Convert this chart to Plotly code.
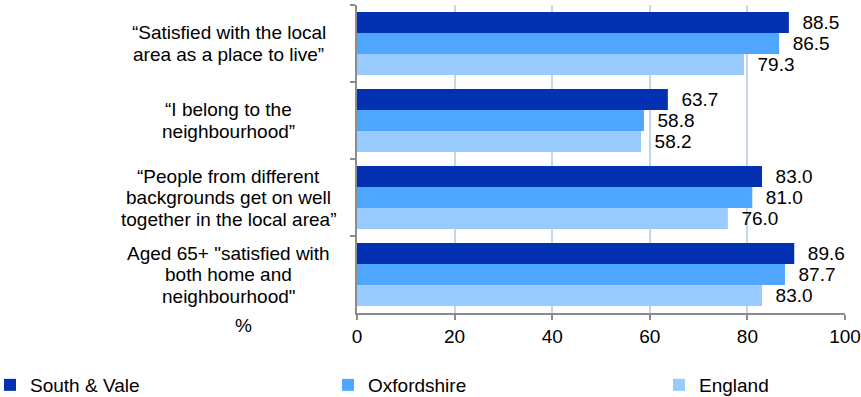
import plotly.graph_objects as go

categories = [
    "“Satisfied with the local<br>area as a place to live”",
    "“I belong to the<br>neighbourhood”",
    "“People from different<br>backgrounds get on well<br>together in the local area”",
    "Aged 65+ \"satisfied with<br>both home and<br>neighbourhood\"",
]
series_names = ["South & Vale", "Oxfordshire", "England"]
south_vale = [88.5, 63.7, 83.0, 89.6]
oxfordshire = [86.5, 58.8, 81.0, 87.7]
england = [79.3, 58.2, 76.0, 83.0]
x_ticks = [0, 20, 40, 60, 80, 100]
axis_title = "%"

colors = ["#0331b2", "#4ea6fe", "#99cbfe"]
legend_ids = ["legend", "legend2", "legend3"]
legend_x = [-0.752, -0.0594, 0.6189]
FONT = "Liberation Sans, Arial, sans-serif"
FS = 19

fig = go.Figure()
for name, vals, col, lid in zip(series_names, [south_vale, oxfordshire, england], colors, legend_ids):
    fig.add_trace(go.Bar(
        y=categories, x=vals, name=name, orientation="h",
        marker=dict(color=col, line=dict(width=0)),
        texttemplate="\u00a0\u00a0%{x:.1f}", textposition="outside",
        textfont=dict(size=FS, color="#000000", family=FONT),
        constraintext="none", cliponaxis=False,
        hoverinfo="x+name", legend=lid, showlegend=True,
    ))

# Category labels, centered multi-line
line_gap = 21.5
for cat in categories:
    lines = cat.split("<br>")
    n = len(lines)
    for i, ln in enumerate(lines):
        fig.add_annotation(
            x=-0.2623, xref="paper", y=cat, yref="y",
            text=ln, showarrow=False, xanchor="center", yanchor="middle",
            yshift=-(i - (n - 1) / 2) * line_gap,
            font=dict(size=FS, color="#000000", family=FONT),
        )

fig.add_annotation(
    x=-0.2336, xref="paper", y=-0.039, yref="paper", text=axis_title,
    showarrow=False, xanchor="center", yanchor="middle",
    font=dict(size=FS, color="#000000", family=FONT),
)

legend_common = dict(
    orientation="h", xanchor="left", y=-0.2338, yanchor="middle",
    font=dict(size=FS, color="#000000", family=FONT),
    bgcolor="rgba(0,0,0,0)",
)

fig.update_layout(
    width=861, height=397,
    margin=dict(l=357, r=16, t=5, b=84, autoexpand=False),
    paper_bgcolor="white", plot_bgcolor="white",
    barmode="group", bargap=0.182, bargroupgap=0,
    font=dict(family=FONT, size=FS, color="#000000"),
    showlegend=True,
    legend=dict(x=legend_x[0], **legend_common),
    legend2=dict(x=legend_x[1], **legend_common),
    legend3=dict(x=legend_x[2], **legend_common),
    xaxis=dict(
        range=[0, 100], tickvals=x_ticks, ticks="outside", ticklen=5,
        tickcolor="#8c8c8c", tickwidth=1.5,
        showline=True, linecolor="#8c8c8c", linewidth=1.5,
        showgrid=True, gridcolor="#c5d5ea", gridwidth=1.5,
        zeroline=False, tickfont=dict(size=FS, color="#000000", family=FONT),
        fixedrange=True,
    ),
    yaxis=dict(
        range=[3.5, -0.5], type="category", showticklabels=False,
        ticks="outside", ticklen=5, tickson="boundaries",
        tickcolor="#8c8c8c", tickwidth=1.5,
        showline=True, linecolor="#8c8c8c", linewidth=1.5,
        showgrid=False, zeroline=False, fixedrange=True,
    ),
)

fig.write_html(
    "out.html",
    config={"displayModeBar": False},
    post_script="document.body.style.margin='0';document.body.style.padding='0';",
)
